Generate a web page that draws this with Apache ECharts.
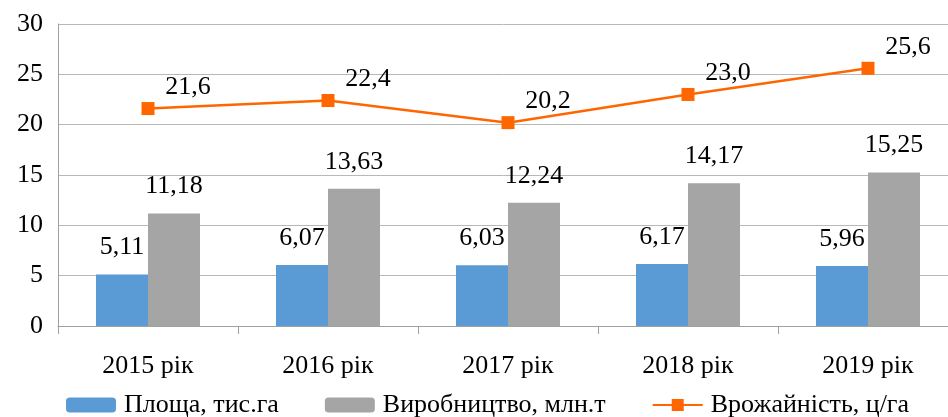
<!DOCTYPE html>
<html><head><meta charset="utf-8">
<script src="https://cdn.jsdelivr.net/npm/echarts@6/dist/echarts.min.js"></script>
<style>html,body{margin:0;padding:0;background:#fff}#c{width:948px;height:417px}</style>
</head><body><div id="c"></div>
<script>
const categories = ['2015 рік','2016 рік','2017 рік','2018 рік','2019 рік'];
const area = [5.11, 6.07, 6.03, 6.17, 5.96];
const production = [11.18, 13.63, 12.24, 14.17, 15.25];
const yieldVals = [21.6, 22.4, 20.2, 23.0, 25.6];
const seriesNames = ['Площа, тис.га','Виробництво, млн.т','Врожайність, ц/га'];
const fmt = p => String(p.value).replace('.', ',');
const fmt1 = p => p.value.toFixed(1).replace('.', ',');
const font = '"Liberation Serif", "Times New Roman", serif';
const fs = 26;
const chart = echarts.init(document.getElementById('c'));
chart.setOption({
  animation:false,
  textStyle:{fontFamily:font},
  grid:{left:58,width:900,top:24,height:302,outerBoundsMode:'none',containLabel:false},
  legend:{bottom:-1,left:66,padding:0,itemWidth:50,itemHeight:15,itemGap:46,
    textStyle:{fontFamily:font,fontSize:fs,color:'#000',padding:[0,0,0,3]},
    data:[{name:seriesNames[0]},{name:seriesNames[1]},{name:seriesNames[2]}]},
  xAxis:{type:'category',data:categories,
    axisLine:{lineStyle:{color:'#a0a0a0'}},
    axisTick:{show:true,length:8,lineStyle:{color:'#a0a0a0'}},
    axisLabel:{fontFamily:font,fontSize:fs,color:'#000',margin:27}},
  yAxis:{type:'value',min:0,max:30,interval:5,
    axisLine:{show:true,lineStyle:{color:'#a0a0a0'}},
    axisTick:{show:false},
    splitLine:{lineStyle:{color:'#b8b8b8',width:1}},
    axisLabel:{fontFamily:font,fontSize:fs,color:'#000',margin:15}},
  series:[
    {name:seriesNames[0],type:'bar',data:area,barWidth:52,barGap:'0%',
     itemStyle:{color:'#5b9bd5'},
     label:{show:true,position:'top',distance:14,formatter:fmt,fontFamily:font,fontSize:fs,color:'#000'}},
    {name:seriesNames[1],type:'bar',data:production,barWidth:52,barGap:'0%',
     itemStyle:{color:'#a5a5a5'},
     label:{show:true,position:'top',distance:14,formatter:fmt,fontFamily:font,fontSize:fs,color:'#000'}},
    {name:seriesNames[2],type:'line',data:yieldVals,symbol:'rect',symbolSize:13,
     lineStyle:{color:'#ff6600',width:2.5},itemStyle:{color:'#ff6600'},
     label:{show:true,position:'top',offset:[40,3],formatter:fmt1,fontFamily:font,fontSize:fs,color:'#000'}}
  ]
});
</script></body></html>
